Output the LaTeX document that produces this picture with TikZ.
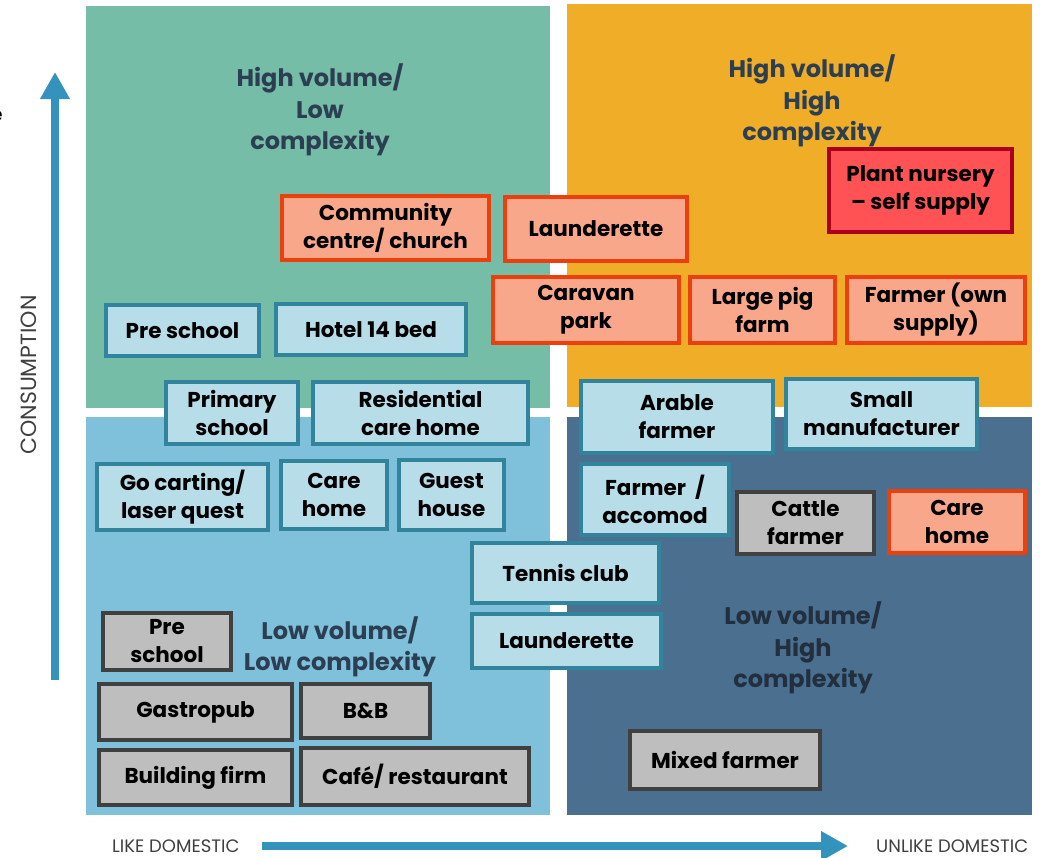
\documentclass[tikz,border=0pt]{standalone}
\usepackage{fontspec}
\setmainfont{Poppins}
\usetikzlibrary{arrows.meta}

\definecolor{quadTL}{HTML}{75BDA7}
\definecolor{quadTR}{HTML}{F0AE28}
\definecolor{quadBL}{HTML}{7FC1DB}
\definecolor{quadBR}{HTML}{4A6F8F}
\definecolor{titleink}{HTML}{2C3F52}
\definecolor{axisblue}{HTML}{3493BD}
\definecolor{axisink}{HTML}{404040}
\definecolor{bluefill}{HTML}{B7DDE8}
\definecolor{blueline}{HTML}{31849B}
\definecolor{orangefill}{HTML}{F9A78B}
\definecolor{orangeline}{HTML}{EA400E}
\definecolor{redfill}{HTML}{FF5254}
\definecolor{redline}{HTML}{A8001E}
\definecolor{grayfill}{HTML}{BEBEBE}
\definecolor{grayline}{HTML}{404040}

\tikzset{
  casebase/.style={rectangle, line width=4pt, inner sep=0pt, outer sep=0pt,
    align=center, text=black, font=\bfseries\fontsize{21.5}{28}\selectfont},
  bluecase/.style={casebase, fill=bluefill, draw=blueline},
  orangecase/.style={casebase, fill=orangefill, draw=orangeline},
  redcase/.style={casebase, fill=redfill, draw=redline},
  graycase/.style={casebase, fill=grayfill, draw=grayline},
  quadtitle/.style={align=center, text=titleink, inner sep=0pt,
    font=\bfseries\fontsize{24}{31.5}\selectfont},
  axislabel/.style={text=axisink, inner sep=0pt, font=\fontsize{18}{20}\selectfont},
  axisarrow/.style={draw=axisblue, line width=8pt,
    -{Triangle[length=27pt, width=28pt]}}
}

% box given by its outer corners (x1,y1) and (x2,y2), border included
\newcommand\casebox[7]{%
  \pgfmathsetmacro\caseboxw{#5-#3-4}%
  \pgfmathsetmacro\caseboxh{#6-#4-4}%
  \node[#2, minimum width=\caseboxw pt, minimum height=\caseboxh pt]
    (#1) at ({(#3+#5)/2},{(#4+#6)/2}) {#7};}

\begin{document}
\begin{tikzpicture}[x=1pt, y=-1pt]
\useasboundingbox (0,0) rectangle (1040,857);
\fill[white] (0,0) rectangle (1040,857);

% quadrants
\fill[quadTL] (86,6) rectangle (550,408);
\fill[quadTR] (567,4) rectangle (1032,407);
\fill[quadBL] (86,417) rectangle (550,815);
\fill[quadBR] (567,417) rectangle (1032,815);

% stray letter at the left margin
\node[text=black, anchor=east, inner sep=0pt, font=\fontsize{20}{24}\selectfont]
  (stray) at (3,116) {e};

% axes
\coordinate (ybot) at (55,680);
\coordinate (ytop) at (55,72);
\draw[axisarrow] (ybot) -- (ytop);
\coordinate (xleft) at (262,846);
\coordinate (xright) at (848,846);
\draw[axisarrow] (xleft) -- (xright);
\node[axislabel, rotate=90, font=\fontsize{22}{26}\selectfont] (cons) at (29,375) {CONSUMPTION};
\node[axislabel, anchor=base west] (likedom) at (112,852) {LIKE DOMESTIC};
\node[axislabel, anchor=base west] (unlikedom) at (876,852) {UNLIKE DOMESTIC};

% quadrant titles
\node[quadtitle] (tTL) at (320,110) {High volume/\\Low\\complexity};
\node[quadtitle] (tTR) at (812,101) {High volume/\\High\\complexity};
\node[quadtitle] (tBL) at (340,647) {Low volume/\\Low complexity};
\node[quadtitle, text=titleink!90!quadBR!70!black] (tBR) at (803,648) {Low volume/\\High\\complexity};

% cases
\casebox{community}{orangecase}{280}{194}{491}{262}{Community\\centre/ church}
\casebox{laundA}{orangecase}{503}{195}{689}{263}{Launderette}
\casebox{nursery}{redcase}{827}{147}{1014}{234}{Plant nursery\\– self supply}
\casebox{caravan}{orangecase}{491}{275}{681}{345}{Caravan\\park}
\casebox{pigfarm}{orangecase}{688}{275}{837}{345}{Large pig\\farm}
\casebox{ownsupply}{orangecase}{845}{275}{1027}{345}{Farmer (own\\supply)}
\casebox{preschoolA}{bluecase}{104}{303}{261}{358}{Pre school}
\casebox{hotel}{bluecase}{274}{302}{468}{357}{Hotel 14 bed}
\casebox{primary}{bluecase}{164}{380}{300}{446}{Primary\\school}
\casebox{residential}{bluecase}{311}{380}{530}{446}{Residential\\care home}
\casebox{arable}{bluecase}{579}{379}{775}{455}{Arable\\farmer}
\casebox{manufacturer}{bluecase}{784}{377}{979}{451}{Small\\manufacturer}
\casebox{accomod}{bluecase}{579}{462}{731}{537}{Farmer~~/\\accomod}
\casebox{cattle}{graycase}{735}{490}{876}{556}{Cattle\\farmer}
\casebox{carehomeB}{orangecase}{887}{489}{1027}{555}{Care\\home}
\casebox{gocart}{bluecase}{95}{462}{270}{532}{Go carting/\\laser quest}
\casebox{carehomeA}{bluecase}{279}{459}{389}{531}{Care\\home}
\casebox{guest}{bluecase}{397}{458}{506}{532}{Guest\\house}
\casebox{tennis}{bluecase}{470}{541}{661}{605}{Tennis club}
\casebox{laundB}{bluecase}{470}{612}{663}{670}{Launderette}
\casebox{preschoolB}{graycase}{101}{611}{233}{672}{Pre\\school}
\casebox{gastropub}{graycase}{97}{682}{294}{742}{Gastropub}
\casebox{bandb}{graycase}{299}{682}{432}{740}{B\&B}
\casebox{building}{graycase}{97}{748}{294}{807}{Building firm}
\casebox{cafe}{graycase}{299}{746}{531}{807}{Café/ restaurant}
\casebox{mixed}{graycase}{628}{729}{822}{791}{Mixed farmer}
\end{tikzpicture}
\end{document}
